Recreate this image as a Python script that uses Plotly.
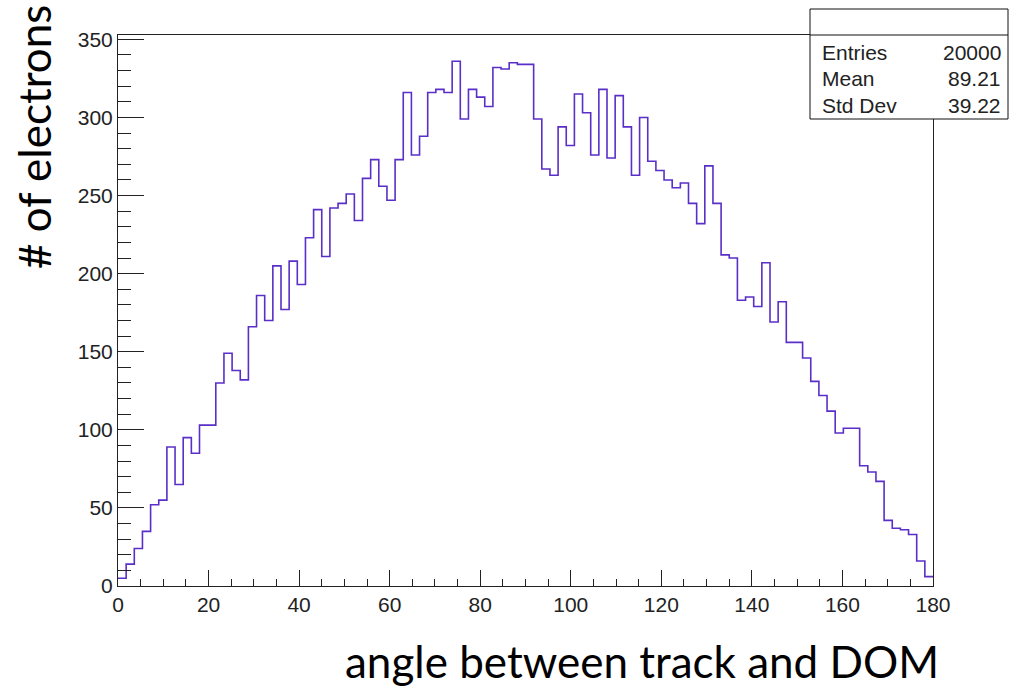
import plotly.graph_objects as go

# ---- data ----
x_min, x_max, n_bins = 0.0, 180.0, 100
counts = [
    5, 14, 24, 35, 52, 55, 89, 65, 95, 85,
    103, 103, 130, 149, 138, 132, 166, 186, 170, 205,
    177, 208, 193, 223, 241, 211, 242, 245, 251, 234,
    261, 273, 256, 247, 273, 316, 276, 288, 316, 318,
    316, 336, 299, 318, 313, 307, 332, 331, 335, 334,
    334, 299, 267, 263, 294, 282, 315, 303, 276, 318,
    274, 314, 294, 263, 300, 272, 266, 260, 255, 258,
    245, 232, 269, 245, 212, 210, 183, 185, 179, 207,
    169, 182, 156, 156, 146, 131, 122, 112, 98, 101,
    101, 77, 73, 67, 42, 37, 36, 33, 16, 6,
]
stat_labels = ["Entries", "Mean", "Std Dev"]
stat_values = ["20000", "89.21", "39.22"]
x_title = "angle between track and DOM"
y_title = "# of electrons"

# ---- build step outline from bin edges ----
bw = (x_max - x_min) / n_bins
edges = [x_min + i * bw for i in range(n_bins + 1)]
xs = edges
ys = counts + [counts[-1]]

W, H = 1010, 688
L, R, T, B = 118, 77, 35, 102


def px(x):
    return (x - L) / (W - L - R)


def py(y):
    return (H - B - y) / (H - T - B)


fig = go.Figure()
fig.add_trace(go.Scatter(
    x=xs, y=ys, mode="lines", line=dict(shape="hv", color="#5a2fc8", width=1.6),
    hoverinfo="skip", showlegend=False,
))

tick_font = dict(family="Liberation Sans, Arial, sans-serif", size=21, color="#222")

fig.update_layout(
    width=W, height=H,
    margin=dict(l=L, r=R, t=T, b=B, pad=0),
    paper_bgcolor="white", plot_bgcolor="white",
    showlegend=False,
)
fig.update_xaxes(
    range=[x_min, x_max], tick0=0, dtick=20, ticks="inside", ticklen=16, tickwidth=1,
    tickcolor="#222", showline=True, linecolor="#222", linewidth=1, mirror=True,
    showgrid=False, zeroline=False, tickfont=tick_font,
    minor=dict(dtick=5, ticks="inside", ticklen=7, tickcolor="#222", showgrid=False),
)
fig.update_yaxes(
    range=[0, max(counts) * 1.05], tick0=0, dtick=50, ticks="inside", ticklen=26, tickwidth=1,
    tickcolor="#222", showline=True, linecolor="#222", linewidth=1, mirror=True,
    showgrid=False, zeroline=False, tickfont=tick_font,
    minor=dict(dtick=10, ticks="inside", ticklen=13, tickcolor="#222", showgrid=False),
)

# stats box
shapes = [
    dict(type="rect", xref="paper", yref="paper", x0=px(810), x1=px(1008), y0=py(119), y1=py(9),
         line=dict(color="#111", width=1), fillcolor="white", layer="above"),
    dict(type="line", xref="paper", yref="paper", x0=px(810), x1=px(1008), y0=py(35), y1=py(35),
         line=dict(color="#111", width=1), layer="above"),
]
fig.update_layout(shapes=shapes)

annots = []
stat_rows_y = [53, 79, 105]
for lab, val, yy in zip(stat_labels, stat_values, stat_rows_y):
    annots.append(dict(text=lab, x=px(820), y=py(yy), xref="paper", yref="paper",
                       xanchor="left", yanchor="middle", showarrow=False, font=tick_font))
    annots.append(dict(text=val, x=px(1003), y=py(yy), xref="paper", yref="paper",
                       xanchor="right", yanchor="middle", showarrow=False, font=tick_font))

title_font = dict(family="Lato, Open Sans, sans-serif", size=44, color="black")
annots.append(dict(text=x_title, x=px(941), y=py(661), xref="paper", yref="paper",
                   xanchor="right", yanchor="middle", showarrow=False, font=title_font))
annots.append(dict(text=y_title, x=px(34), y=py(137), xref="paper", yref="paper",
                   xanchor="center", yanchor="middle", showarrow=False, textangle=-90,
                   font=title_font))
fig.update_layout(annotations=annots)

fig.write_html("out.html")
